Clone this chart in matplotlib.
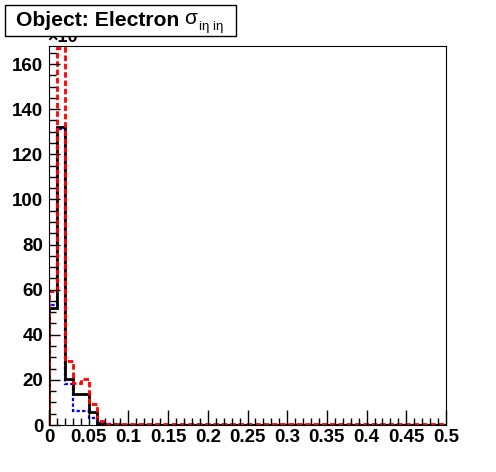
import numpy as np
import matplotlib.pyplot as plt
from matplotlib.patches import Rectangle

plt.rcParams['font.family'] = ['Liberation Sans', 'DejaVu Sans']

# 50 bins from 0 to 0.5 (values in units of 10^3)
edges = np.linspace(0, 0.5, 51)
black_vals = [51.7, 132, 20.4, 13.7, 13.7, 5.9, 0.6, 0.2, 0.1] + [0.0] * 41
blue_vals = [53.2, 131, 18.2, 6.4, 6.4, 3.0, 0.9, 0.4, 0.3] + [0.0] * 41
red_vals = [59.4, 167, 28.5, 18.6, 20.5, 9.2, 1.8, 0.5, 0.4] + [0.4] * 41

fig = plt.figure(figsize=(4.96, 4.72), dpi=100)
ax = fig.add_axes([49 / 496, 1 - 425 / 472, 397 / 496, 379 / 472])

ax.stairs(blue_vals, edges, color='blue', lw=1.6, linestyle=(0, (1.5, 1)))
ax.stairs(black_vals, edges, color='black', lw=2)
ax.stairs(red_vals, edges, color='red', lw=2, linestyle=(0, (2, 1)))

ax.set_xlim(0, 0.5)
ax.set_ylim(0, 168)
ax.set_xticks(np.arange(0, 0.501, 0.05))
ax.set_xticklabels(['0', '0.05', '0.1', '0.15', '0.2', '0.25', '0.3', '0.35', '0.4', '0.45', '0.5'])
ax.set_xticks(np.arange(0, 0.501, 0.01), minor=True)
ax.set_yticks(np.arange(0, 161, 20))
ax.set_yticks(np.arange(0, 168, 5), minor=True)
ax.tick_params(which='both', direction='in', top=False, right=False)
ax.tick_params(which='major', length=11, width=1, labelsize=13.5, pad=3)
ax.tick_params(axis='y', which='major', length=8, pad=4)
ax.tick_params(which='minor', length=5, width=1)
for lab in ax.get_xticklabels() + ax.get_yticklabels():
    lab.set_fontweight('bold')

# exponent label, partly hidden by the title box
fig.text(47 / 496, 1 - 46 / 472, '\u00d710', fontsize=13, fontweight='bold',
         ha='left', va='bottom', zorder=1)

# title box
fig.patches.append(Rectangle((5 / 496, 1 - 36 / 472), 231 / 496, 31 / 472,
                             transform=fig.transFigure, facecolor='white',
                             edgecolor='black', lw=1, zorder=2))
fig.text(16 / 496, 1 - 21 / 472, 'Object: Electron', fontsize=15.2, fontweight='bold',
         ha='left', va='center', zorder=3)
fig.text(184 / 496, 1 - 19 / 472, '\u03c3', fontsize=15,
         ha='left', va='center', zorder=3)
fig.text(199 / 496, 1 - 27 / 472, 'i\u03b7 i\u03b7', fontsize=9.5,
         ha='left', va='center', zorder=3)

fig.savefig('out.png', dpi=100)
